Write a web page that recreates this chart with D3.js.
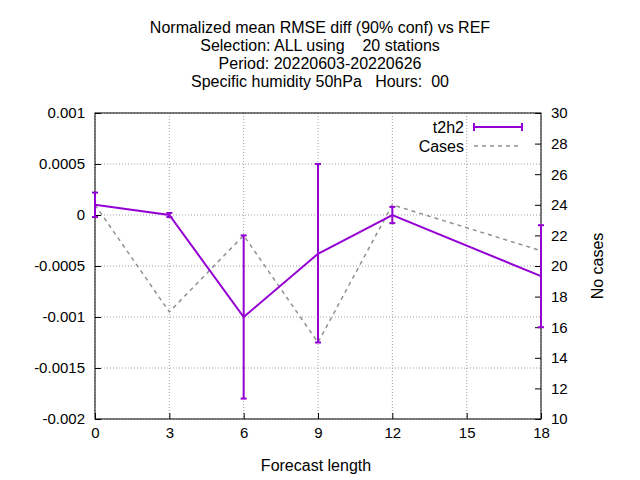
<!DOCTYPE html>
<html><head><meta charset="utf-8">
<script src="https://cdn.jsdelivr.net/npm/d3@7"></script>
<style>body{margin:0;background:#fff}text{font-family:"Liberation Sans",Arial,sans-serif;font-size:16px}</style>
</head><body><svg id="c" width="640" height="480"></svg>
<script>
const steps=[0,3,6,9,12,18];
const rmse=[0.0001,0,-0.001,-0.00038,0,-0.0006];
const errLo=[-0.00002,-0.00002,-0.0018,-0.00125,-0.00008,-0.0011];
const errHi=[0.00022,0.00002,-0.0002,0.0005,0.00008,-0.0001];
const cases=[24,17,22,15,24,21];
const xTicks=[0,3,6,9,12,15,18];
const yTicks=[0.001,0.0005,0,-0.0005,-0.001,-0.0015,-0.002];
const y2Ticks=[10,12,14,16,18,20,22,24,26,28,30];
const titles=["Normalized mean RMSE diff (90% conf) vs REF","Selection: ALL using    20 stations","Period: 20220603-20220626","Specific humidity 50hPa   Hours:  00"];
const svg=d3.select("#c");
const L=95,R=541,T=113,B=419;
const x=d3.scaleLinear().domain([0,18]).range([L,R]);
const y=d3.scaleLinear().domain([-0.002,0.001]).range([B,T]);
const y2=d3.scaleLinear().domain([10,30]).range([B,T]);
const g=svg.append("g");
xTicks.forEach(t=>{g.append("line").attr("x1",x(t)).attr("x2",x(t)).attr("y1",T).attr("y2",B).attr("stroke","#a0a0a0").attr("stroke-dasharray","1,2");});
yTicks.forEach(t=>{g.append("line").attr("x1",L).attr("x2",R).attr("y1",y(t)).attr("y2",y(t)).attr("stroke","#a0a0a0").attr("stroke-dasharray","1,2");});
svg.append("rect").attr("x",L).attr("y",T).attr("width",R-L).attr("height",B-T).attr("fill","none").attr("stroke","#000");
const ax=svg.append("g").attr("transform",`translate(0,${B})`).call(d3.axisBottom(x).tickValues(xTicks).tickSize(-6).tickPadding(8));
const ay=svg.append("g").attr("transform",`translate(${L},0)`).call(d3.axisLeft(y).tickValues(yTicks).tickFormat(d=>d===0?"0":String(+d.toPrecision(3))).tickSize(-6).tickPadding(10));
const ay2=svg.append("g").attr("transform",`translate(${R},0)`).call(d3.axisRight(y2).tickValues(y2Ticks).tickSize(-6).tickPadding(10));
[ax,ay,ay2].forEach(a=>{a.select(".domain").remove();a.selectAll("text").style("font-size","15px").attr("fill","#000");});
svg.append("path").datum(steps.map((s,i)=>[s,cases[i]])).attr("fill","none").attr("stroke","#909090").attr("stroke-width",1.5).attr("stroke-dasharray","4,4")
 .attr("d",d3.line().x(d=>x(d[0])).y(d=>y2(d[1])));
const col="#9400d3";
svg.append("path").datum(steps.map((s,i)=>[s,rmse[i]])).attr("fill","none").attr("stroke",col).attr("stroke-width",2)
 .attr("d",d3.line().x(d=>x(d[0])).y(d=>y(d[1])));
steps.forEach((s,i)=>{
 const xx=x(s);
 svg.append("line").attr("x1",xx).attr("x2",xx).attr("y1",y(errLo[i])).attr("y2",y(errHi[i])).attr("stroke",col).attr("stroke-width",2);
 [errLo[i],errHi[i]].forEach(v=>svg.append("line").attr("x1",xx-3).attr("x2",xx+3).attr("y1",y(v)).attr("y2",y(v)).attr("stroke",col).attr("stroke-width",2));
});
svg.append("text").attr("x",464).attr("y",133).attr("text-anchor","end").text("t2h2");
svg.append("line").attr("x1",474).attr("x2",522).attr("y1",127).attr("y2",127).attr("stroke",col).attr("stroke-width",2);
[474,522].forEach(v=>svg.append("line").attr("x1",v).attr("x2",v).attr("y1",123).attr("y2",131).attr("stroke",col).attr("stroke-width",2));
svg.append("text").attr("x",464).attr("y",152).attr("text-anchor","end").text("Cases");
svg.append("line").attr("x1",474).attr("x2",522).attr("y1",146).attr("y2",146).attr("stroke","#909090").attr("stroke-width",1.5).attr("stroke-dasharray","4,4");
titles.forEach((t,i)=>svg.append("text").attr("x",320).attr("y",33+i*18).attr("text-anchor","middle").style("white-space","pre").text(t));
svg.append("text").attr("x",316).attr("y",471).attr("text-anchor","middle").text("Forecast length");
svg.append("text").attr("transform","translate(603,266) rotate(-90)").attr("text-anchor","middle").text("No cases");
</script></body></html>
